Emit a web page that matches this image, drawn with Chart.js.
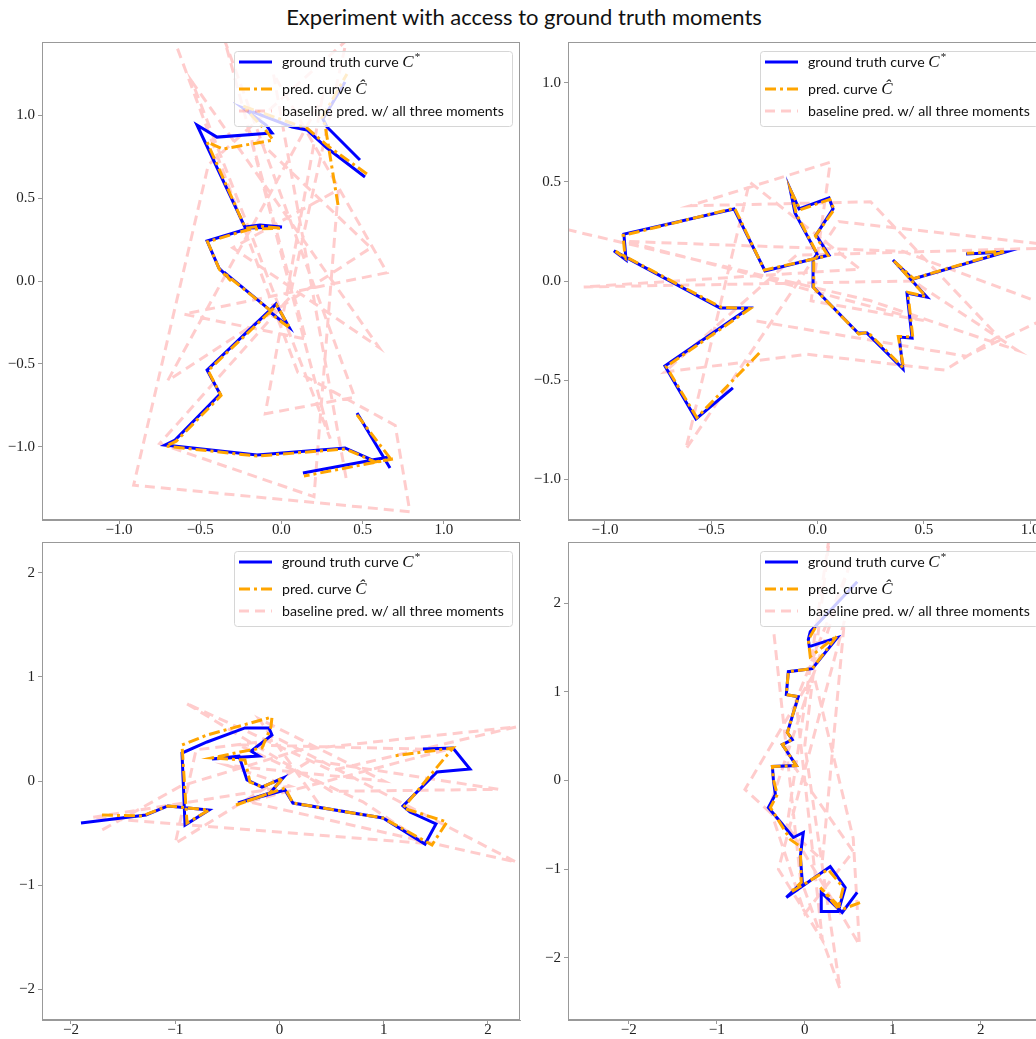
<!DOCTYPE html>
<html>
<head>
<meta charset="utf-8">
<script src="https://cdn.jsdelivr.net/npm/chart.js@4.4.1/dist/chart.umd.min.js"></script>
<style>
  html, body { margin: 0; padding: 0; background: #fff; overflow: hidden; }
  #page { position: relative; width: 1036px; height: 1039px; overflow: hidden; }
  #title { position: absolute; left: 0; top: 3px; width: 1048px; text-align: center;
           font: 22px Lato, sans-serif; color: #111; line-height: 28px; }
  canvas { position: absolute; }
</style>
</head>
<body>
<div id="page">
  <div id="title">Experiment with access to ground truth moments</div>
  <canvas id="c1"></canvas>
  <canvas id="c2"></canvas>
  <canvas id="c3"></canvas>
  <canvas id="c4"></canvas>
</div>
<script>
// Tick values
const ticksHalf = [-1, -0.5, 0, 0.5, 1];
const ticksUnit = [-2, -1, 0, 1, 2];

// Panel 1 (top left)
const p1Truth = [[0.483,0.729],[0.280,0.928],[0.255,0.976],[0.391,1.199],null,
  [0.514,0.627],[0.280,0.801],[0.157,0.910],[0.065,0.928],[-0.237,1.042],[-0.095,0.940],[-0.058,0.892],
  [-0.397,0.867],[-0.520,0.940],[-0.225,0.325],[-0.132,0.337],[0.003,0.325],[-0.194,0.319],[-0.458,0.241],
  [-0.385,0.078],[-0.317,0.012],[-0.354,0.054],[-0.071,-0.175],[-0.034,-0.139],[0.046,-0.277],[-0.077,-0.181],
  [-0.458,-0.536],[-0.378,-0.681],[-0.655,-0.958],[-0.717,-0.988],[-0.151,-1.048],[0.391,-1.006],
  [0.557,-1.078],[0.662,-1.060],[0.132,-1.157],null,
  [0.465,-0.795],[0.668,-1.127]];
const p1Pred = [[0.348,0.458],[0.268,0.940],[0.249,0.982],[0.403,1.247],null,
  [0.526,0.645],[0.286,0.813],[0.157,0.922],[0.095,0.940],[-0.237,1.054],[-0.089,0.898],[-0.052,0.849],
  [-0.360,0.795],[-0.458,0.837],[-0.222,0.318],[-0.132,0.330],[0.000,0.318],[-0.194,0.312],[-0.455,0.236],
  [-0.382,0.070],[-0.310,0.000],[-0.350,0.045],[-0.065,-0.180],[-0.030,-0.145],[0.052,-0.285],[-0.075,-0.190],
  [-0.452,-0.540],[-0.372,-0.690],[-0.648,-0.965],[-0.712,-0.995],[-0.150,-1.055],[0.395,-1.012],
  [0.575,-1.090],[0.686,-1.072],[0.138,-1.175],null,
  [0.465,-0.807],[0.686,-1.090]];
const p1Base = [[-0.64,1.40],[0.10,-0.55],[0.70,-0.87],[0.79,-1.39],[-0.91,-1.23],[-0.45,0.70],[0.40,1.45],
  [0.05,-0.10],[-0.75,-0.98],[0.20,-1.30],[0.35,0.55],[-0.30,0.20],[0.60,-0.40],[-0.55,1.20],[0.30,-0.95],
  [-0.20,0.90],[0.55,0.20],[-0.70,-0.60],[0.25,1.10],[-0.10,-0.80],[0.45,-0.70],[-0.35,1.45],[0.15,-0.35],
  [-0.60,-0.20],[0.65,0.05],[-0.05,1.25],[0.40,-1.20]];

// Panel 2 (top right)
const p2Truth = [[-0.398,-0.540],[-0.572,-0.697],[-0.718,-0.429],[-0.322,-0.136],[-0.459,-0.136],
  [-0.958,0.152],[-0.901,0.106],[-0.911,0.237],[-0.393,0.364],[-0.247,0.051],[0.054,0.131],[-0.007,0.232],
  [0.073,0.364],[0.054,0.419],[-0.087,0.364],[-0.129,0.465],[-0.106,0.343],[-0.002,0.136],[-0.021,0.106],
  [-0.021,-0.030],[0.191,-0.263],[0.233,-0.263],[0.402,-0.444],[0.384,-0.283],[0.445,-0.288],[0.421,-0.061],
  [0.515,-0.081],[0.355,0.106],[0.449,0.010],[0.882,0.146],[0.699,0.136]];
const p2Pred = [[-0.274,-0.364],[-0.568,-0.690],[-0.712,-0.432],[-0.318,-0.140],[-0.455,-0.132],
  [-0.950,0.150],[-0.905,0.115],[-0.915,0.230],[-0.390,0.368],[-0.250,0.055],[0.050,0.128],[-0.010,0.228],
  [0.078,0.360],[0.058,0.412],[-0.082,0.360],[-0.125,0.455],[-0.100,0.340],[0.002,0.130],[-0.018,0.100],
  [-0.018,-0.035],[0.195,-0.268],[0.236,-0.258],[0.405,-0.440],[0.380,-0.280],[0.448,-0.282],[0.425,-0.058],
  [0.510,-0.078],[0.360,0.100],[0.452,0.012],[0.885,0.150],[0.702,0.140]];
const p2Base = [[-1.18,0.26],[0.25,-0.10],[0.94,-0.35],[0.45,0.00],[-1.10,-0.03],[0.20,0.06],[-0.32,0.50],
  [-0.62,-0.85],[0.10,0.30],[1.20,0.17],[-0.10,0.13],[-0.72,-0.46],[-0.05,-0.37],[0.60,-0.45],[0.85,-0.28],
  [0.25,0.40],[-0.60,0.38],[0.06,0.60],[-0.03,-0.10],[0.50,-0.20],[-0.90,0.20],[0.40,0.15],[1.15,-0.15],
  [0.70,-0.38],[-0.30,-0.20]];

// Panel 3 (bottom left)
const p3Truth = [[-1.904,-0.404],[-1.281,-0.327],[-1.070,-0.240],[-0.676,-0.279],[-0.906,-0.423],[-0.935,0.269],
  [-0.695,0.375],[-0.331,0.510],[-0.101,0.510],[-0.072,0.442],[-0.273,0.288],[-0.197,0.240],[-0.647,0.212],
  [-0.388,0.240],[-0.312,0.010],[-0.168,-0.058],[0.034,0.029],[-0.091,-0.115],[-0.398,-0.212],[0.053,-0.087],
  [0.129,-0.212],[0.993,-0.356],[1.396,-0.606],[1.501,-0.413],[1.252,-0.298],[1.185,-0.240],[1.511,0.087],
  [1.827,0.115],[1.664,0.317],[1.376,0.308]];
const p3Pred = [[-1.703,-0.327],[-1.319,-0.337],[-1.070,-0.240],[-0.676,-0.279],[-0.887,-0.404],[-0.935,0.346],
  [-0.695,0.442],[-0.072,0.615],[-0.082,0.519],[-0.168,0.317],[-0.379,0.279],[-0.647,0.221],[-0.331,0.202],
  [-0.283,-0.010],[-0.168,-0.058],[0.034,0.029],[-0.091,-0.115],[-0.417,-0.231],[0.053,-0.067],[0.129,-0.212],
  [0.993,-0.356],[1.463,-0.615],[1.606,-0.394],[1.185,-0.260],[1.664,0.317],[1.089,0.240]];
const p3Base = [[-1.70,-0.47],[-0.95,-0.05],[0.20,0.30],[2.27,0.52],[0.50,0.10],[-0.90,0.75],[0.50,-0.10],
  [2.10,-0.08],[0.30,0.20],[-1.00,-0.60],[-0.80,0.30],[0.00,0.40],[2.27,-0.78],[-0.30,-0.20],[1.60,0.30],
  [-0.40,0.35],[0.80,-0.20],[1.40,-0.60],[-1.80,-0.35],[0.10,-0.05],[-0.50,0.15],[1.00,0.00],[-0.20,0.60],
  [0.40,-0.25]];

// Panel 4 (bottom right)
const p4Truth = [[0.595,2.242],[0.062,1.679],[0.040,1.589],[0.051,1.510],[0.368,1.611],[0.085,1.262],
  [-0.187,1.228],[-0.210,0.969],[-0.074,0.946],[-0.198,0.541],[-0.142,0.462],[-0.255,0.406],[-0.096,0.169],
  [-0.368,0.158],[-0.357,0.011],[-0.334,-0.158],[-0.414,-0.304],[-0.130,-0.642],[-0.017,-0.586],
  [-0.051,-0.856],[-0.028,-1.149],[-0.210,-1.318],[0.289,-0.969],[0.459,-1.206],[0.380,-1.476],
  [0.187,-1.476],[0.187,-1.262],[0.425,-1.487],[0.595,-1.262]];
const p4Pred = [[0.119,1.724],[0.040,1.589],[0.062,1.397],[0.368,1.634],[0.085,1.262],[-0.187,1.228],
  [-0.210,0.969],[-0.074,0.946],[-0.198,0.541],[-0.142,0.462],[-0.255,0.406],[-0.096,0.169],[-0.368,0.158],
  [-0.357,0.011],[-0.312,-0.158],[-0.391,-0.304],[-0.164,-0.665],[-0.051,-0.744],[-0.040,-1.149],
  [-0.164,-1.262],[0.266,-1.003],[0.436,-1.206],[0.380,-1.442],[0.176,-1.206],[0.425,-1.453],[0.629,-1.375]];
const p4Base = [[-0.35,1.65],[-0.05,-1.10],[0.40,-2.35],[0.00,0.40],[0.30,2.90],[-0.20,-0.50],[0.62,-1.85],
  [0.55,-0.65],[0.10,1.20],[-0.68,-0.10],[0.20,-0.90],[0.45,1.80],[-0.30,-1.00],[0.20,-1.80],[-0.10,0.90],
  [0.50,2.40],[-0.40,-0.30],[0.00,-1.50],[0.55,-0.80],[-0.15,0.20]];

const COLORS = { truth: '#0000ff', pred: '#ffa500', base: 'rgba(255,0,0,0.2)', frame: '#999999' };
const AXIS_W = 45, AXIS_H = 30, PAD_TOP = 14, PAD_RIGHT = 6;

const toPts = arr => arr.map(p => p ? { x: p[0], y: p[1] } : { x: null, y: null });
const fmt = (v, dec) => (v < 0 ? '\u2212' : '') + Math.abs(v).toFixed(dec);

// Frame around the plot area plus the legend box
const framePlugin = {
  id: 'frameLegend',
  afterDatasetsDraw(chart) {
    const { ctx, chartArea: a } = chart;
    ctx.save();
    ctx.strokeStyle = COLORS.frame;
    ctx.lineWidth = 1;
    ctx.strokeRect(Math.round(a.left) + 0.5, Math.round(a.top) + 0.5,
      Math.round(a.width) - 1, Math.round(a.height) - 1);

    // legend
    const w = 278, h = 75;
    const x0 = a.right - 8 - w, y0 = a.top + 9;
    ctx.beginPath();
    ctx.roundRect(x0 + 0.5, y0 + 0.5, w, h, 3);
    ctx.fillStyle = 'rgba(255,255,255,0.8)';
    ctx.fill();
    ctx.strokeStyle = '#d6d6d6';
    ctx.stroke();

    ctx.font = '15px Lato';
    const fit = 15 * 222 / ctx.measureText('baseline pred. w/ all three moments').width;
    const sans = fit.toFixed(2) + 'px Lato';
    const rows = [
      { y: y0 + 11, color: COLORS.truth, dash: [], text: 'ground truth curve ', math: 'C', sup: '*' },
      { y: y0 + 38, color: COLORS.pred, dash: [11, 4, 3, 4], text: 'pred. curve ', math: '\u0108', sup: '' },
      { y: y0 + 60, color: COLORS.base, dash: [10, 6], text: 'baseline pred. w/ all three moments', math: '', sup: '' },
    ];
    rows.forEach(r => {
      ctx.beginPath();
      ctx.setLineDash(r.dash);
      ctx.lineWidth = 3;
      ctx.strokeStyle = r.color;
      ctx.moveTo(x0 + 5, r.y);
      ctx.lineTo(x0 + 38, r.y);
      ctx.stroke();
      ctx.setLineDash([]);
      ctx.fillStyle = '#111';
      ctx.textBaseline = 'middle';
      ctx.textAlign = 'left';
      ctx.font = sans;
      let tx = x0 + 48;
      ctx.fillText(r.text, tx, r.y);
      tx += ctx.measureText(r.text).width;
      if (r.math) {
        ctx.font = 'italic 17px "Liberation Serif"';
        ctx.fillText(r.math, tx, r.y + 1);
        tx += ctx.measureText(r.math).width + 1;
      }
      if (r.sup) {
        ctx.font = '11px "Liberation Serif"';
        ctx.fillText(r.sup, tx, r.y - 5);
      }
    });
    ctx.restore();
  }
};

function makeAxis(min, max, ticks, dec, isX) {
  return {
    type: 'linear',
    position: isX ? 'bottom' : 'left',
    min, max,
    afterBuildTicks: s => { s.ticks = ticks.map(v => ({ value: v })); },
    afterFit: s => { if (isX) s.height = AXIS_H; else s.width = AXIS_W; },
    grid: { display: true, drawOnChartArea: false, drawTicks: true, tickLength: 4, color: COLORS.frame },
    border: { display: true, color: COLORS.frame },
    ticks: {
      autoSkip: false, maxRotation: 0, padding: isX ? -1 : 3, color: '#222',
      font: { family: '"Liberation Serif", serif', size: 15, lineHeight: 1 },
      callback: v => fmt(v, dec)
    }
  };
}

function panel(id, rect, truth, pred, base, xr, yr, ticks, dec) {
  const cv = document.getElementById(id);
  const W = AXIS_W + rect.w + PAD_RIGHT, H = PAD_TOP + rect.h + AXIS_H;
  cv.width = W; cv.height = H;
  cv.style.left = (rect.l - AXIS_W) + 'px';
  cv.style.top = (rect.t - PAD_TOP) + 'px';
  cv.style.width = W + 'px'; cv.style.height = H + 'px';
  const line = { showLine: true, pointRadius: 0, borderWidth: 3, spanGaps: false, fill: false };
  return new Chart(cv, {
    type: 'scatter',
    data: {
      datasets: [
        { ...line, data: toPts(pred), borderColor: COLORS.pred, borderDash: [11, 4, 3, 4], order: 0 },
        { ...line, data: toPts(truth), borderColor: COLORS.truth, order: 1 },
        { ...line, data: toPts(base), borderColor: COLORS.base, borderDash: [10, 6], order: 2 },
      ]
    },
    options: {
      responsive: false,
      animation: false,
      devicePixelRatio: 1,
      layout: { padding: { left: 0, top: PAD_TOP, right: PAD_RIGHT, bottom: 0 } },
      plugins: { legend: { display: false }, tooltip: { enabled: false } },
      scales: {
        x: makeAxis(xr[0], xr[1], ticks, dec, true),
        y: makeAxis(yr[0], yr[1], ticks, dec, false),
      }
    },
    plugins: [framePlugin]
  });
}

panel('c1', { l: 42, t: 42, w: 478, h: 478 }, p1Truth, p1Pred, p1Base, [-1.474, 1.468], [-1.44, 1.44], ticksHalf, 1);
panel('c2', { l: 568, t: 42, w: 478, h: 478 }, p2Truth, p2Pred, p2Base, [-1.174, 1.075], [-1.207, 1.207], ticksHalf, 1);
panel('c3', { l: 42, t: 542, w: 478, h: 478 }, p3Truth, p3Pred, p3Base, [-2.278, 2.307], [-2.298, 2.298], ticksUnit, 0);
panel('c4', { l: 568, t: 542, w: 478, h: 478 }, p4Truth, p4Pred, p4Base, [-2.69, 2.74], [-2.70, 2.69], ticksUnit, 0);
</script>
</body>
</html>
